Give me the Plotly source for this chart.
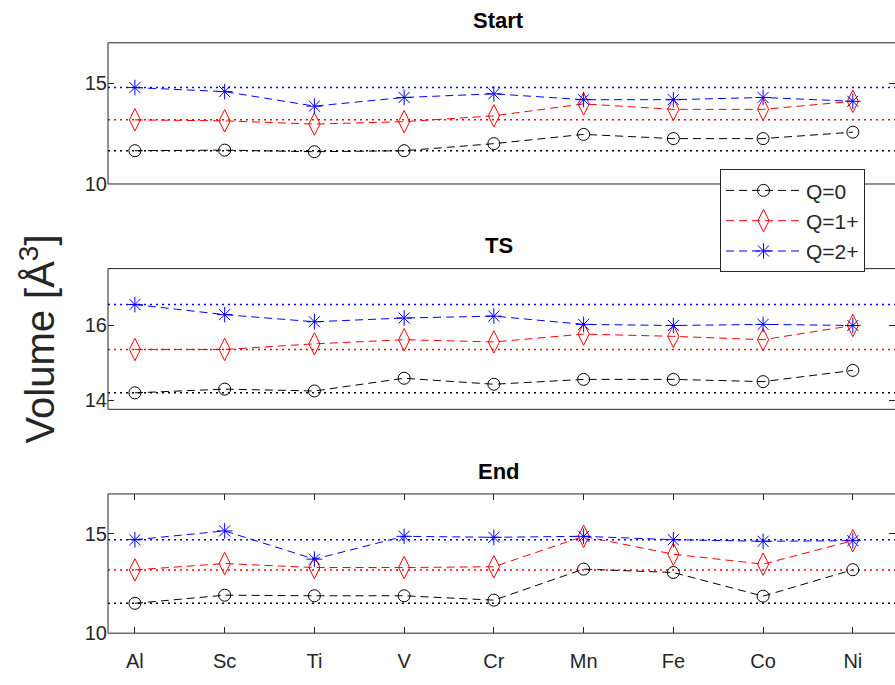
import plotly.graph_objects as go

elements = ["Al", "Sc", "Ti", "V", "Cr", "Mn", "Fe", "Co", "Ni"]

start_q0 = [11.65, 11.68, 11.60, 11.65, 12.00, 12.46, 12.25, 12.25, 12.57]
start_q1 = [13.18, 13.13, 12.97, 13.09, 13.38, 13.97, 13.70, 13.70, 14.10]
start_q2 = [14.78, 14.58, 13.86, 14.29, 14.47, 14.18, 14.18, 14.29, 14.10]

ts_q0 = [14.20, 14.30, 14.25, 14.59, 14.43, 14.56, 14.56, 14.50, 14.80]
ts_q1 = [15.36, 15.36, 15.51, 15.62, 15.56, 15.77, 15.71, 15.62, 16.00]
ts_q2 = [16.56, 16.29, 16.10, 16.20, 16.25, 16.03, 16.00, 16.03, 16.00]

end_q0 = [11.50, 11.91, 11.88, 11.88, 11.66, 13.22, 13.05, 11.86, 13.19]
end_q1 = [13.18, 13.50, 13.30, 13.30, 13.34, 14.87, 13.97, 13.47, 14.65]
end_q2 = [14.70, 15.14, 13.72, 14.87, 14.82, 14.87, 14.70, 14.62, 14.65]

series_names = ["Q=0", "Q=1+", "Q=2+"]
colors = ["#000000", "#FF0000", "#0000FF"]
symbols = ["circle-open", "diamond-tall-open", "asterisk-open"]
msizes = [12, 16, 13]

panels = [
    ("Start", [start_q0, start_q1, start_q2], [10, 17], [10, 15]),
    ("TS", [ts_q0, ts_q1, ts_q2], [13.76, 17.52], [14, 16]),
    ("End", [end_q0, end_q1, end_q2], [10, 17], [10, 15]),
]

W, H = 895, 685
x_left = 108 / W
# pixel top/bottom of each axes box
boxes = [(43.5, 187), (273, 416), (502, 643.5)]

fig = go.Figure()
FONT = "Liberation Sans, Arial, sans-serif"
TICKC = "#262626"
shapes = []
annotations = []

for i, (title, data, yr, ytv) in enumerate(panels):
    n = "" if i == 0 else str(i + 1)
    xa = "x" + n
    ya = "y" + n
    top, bot = boxes[i]
    dom = [1 - bot / H, 1 - top / H]
    for j, vals in enumerate(data):
        fig.add_trace(go.Scatter(
            x=list(range(1, len(elements) + 1)), y=vals,
            xaxis=xa, yaxis=ya,
            mode="lines+markers",
            name=series_names[j],
            showlegend=(i == 0),
            line=dict(color=colors[j], width=1, dash="8px,5px"),
            marker=dict(symbol=symbols[j], size=msizes[j], color=colors[j],
                        line=dict(color=colors[j], width=1)),
        ))
        # dotted reference line at the first (Al) value
        shapes.append(dict(type="line", xref=xa + " domain", yref=ya,
                           x0=0, x1=1, y0=vals[0], y1=vals[0],
                           line=dict(color=colors[j], width=1.5, dash="2px,4px"),
                           layer="below"))
    # frame: left, top, bottom
    for (x0, y0, x1, y1) in [(0, 0, 0, 1), (0, 1, 1, 1), (0, 0, 1, 0)]:
        shapes.append(dict(type="line", xref=xa + " domain", yref=ya + " domain",
                           x0=x0, x1=x1, y0=y0, y1=y1,
                           line=dict(color="#262626", width=1)))
    annotations.append(dict(text="<b>%s</b>" % title, xref="paper", yref="paper",
                            x=(x_left + 1) / 2 - 0.003, y=1 - (top - 23) / H,
                            xanchor="center", yanchor="middle", showarrow=False,
                            font=dict(family=FONT, size=22, color="#000000")))
    xdict = dict(
        domain=[x_left, 1], anchor=ya, range=[0.7, 9.47],
        showline=False, showgrid=False, zeroline=False,
    )
    if i == 2:
        xdict.update(tickmode="array", tickvals=list(range(1, len(elements) + 1)),
                     ticktext=elements, ticks="inside", ticklen=6,
                     tickcolor="#262626", mirror="ticks", ticklabelstandoff=14,
                     tickfont=dict(family=FONT, size=20, color=TICKC))
    else:
        xdict.update(showticklabels=False, ticks="")
    fig.layout["xaxis" + n] = xdict
    fig.layout["yaxis" + n] = dict(
        domain=dom, anchor=xa, range=yr,
        tickmode="array", tickvals=ytv,
        ticks="inside", ticklen=6, tickcolor="#262626", mirror="ticks",
        showline=False, showgrid=False, zeroline=False,
        tickfont=dict(family=FONT, size=20, color=TICKC),
    )

annotations.append(dict(text="Volume [Å<sup>3</sup>]", xref="paper", yref="paper",
                        x=38 / W, y=1 - 345 / H, textangle=-90,
                        xanchor="center", yanchor="middle", showarrow=False,
                        font=dict(family=FONT, size=40, color=TICKC)))

fig.update_layout(
    width=W, height=H,
    margin=dict(l=0, r=0, t=0, b=0),
    paper_bgcolor="white", plot_bgcolor="white",
    shapes=shapes, annotations=annotations,
    legend=dict(x=720 / W, y=1 - 172 / H, xanchor="left", yanchor="top",
                bgcolor="white", bordercolor="#262626", borderwidth=1,
                font=dict(family=FONT, size=21, color=TICKC),
                tracegroupgap=0, itemwidth=75),
    showlegend=True,
)

fig.write_html("out.html")
